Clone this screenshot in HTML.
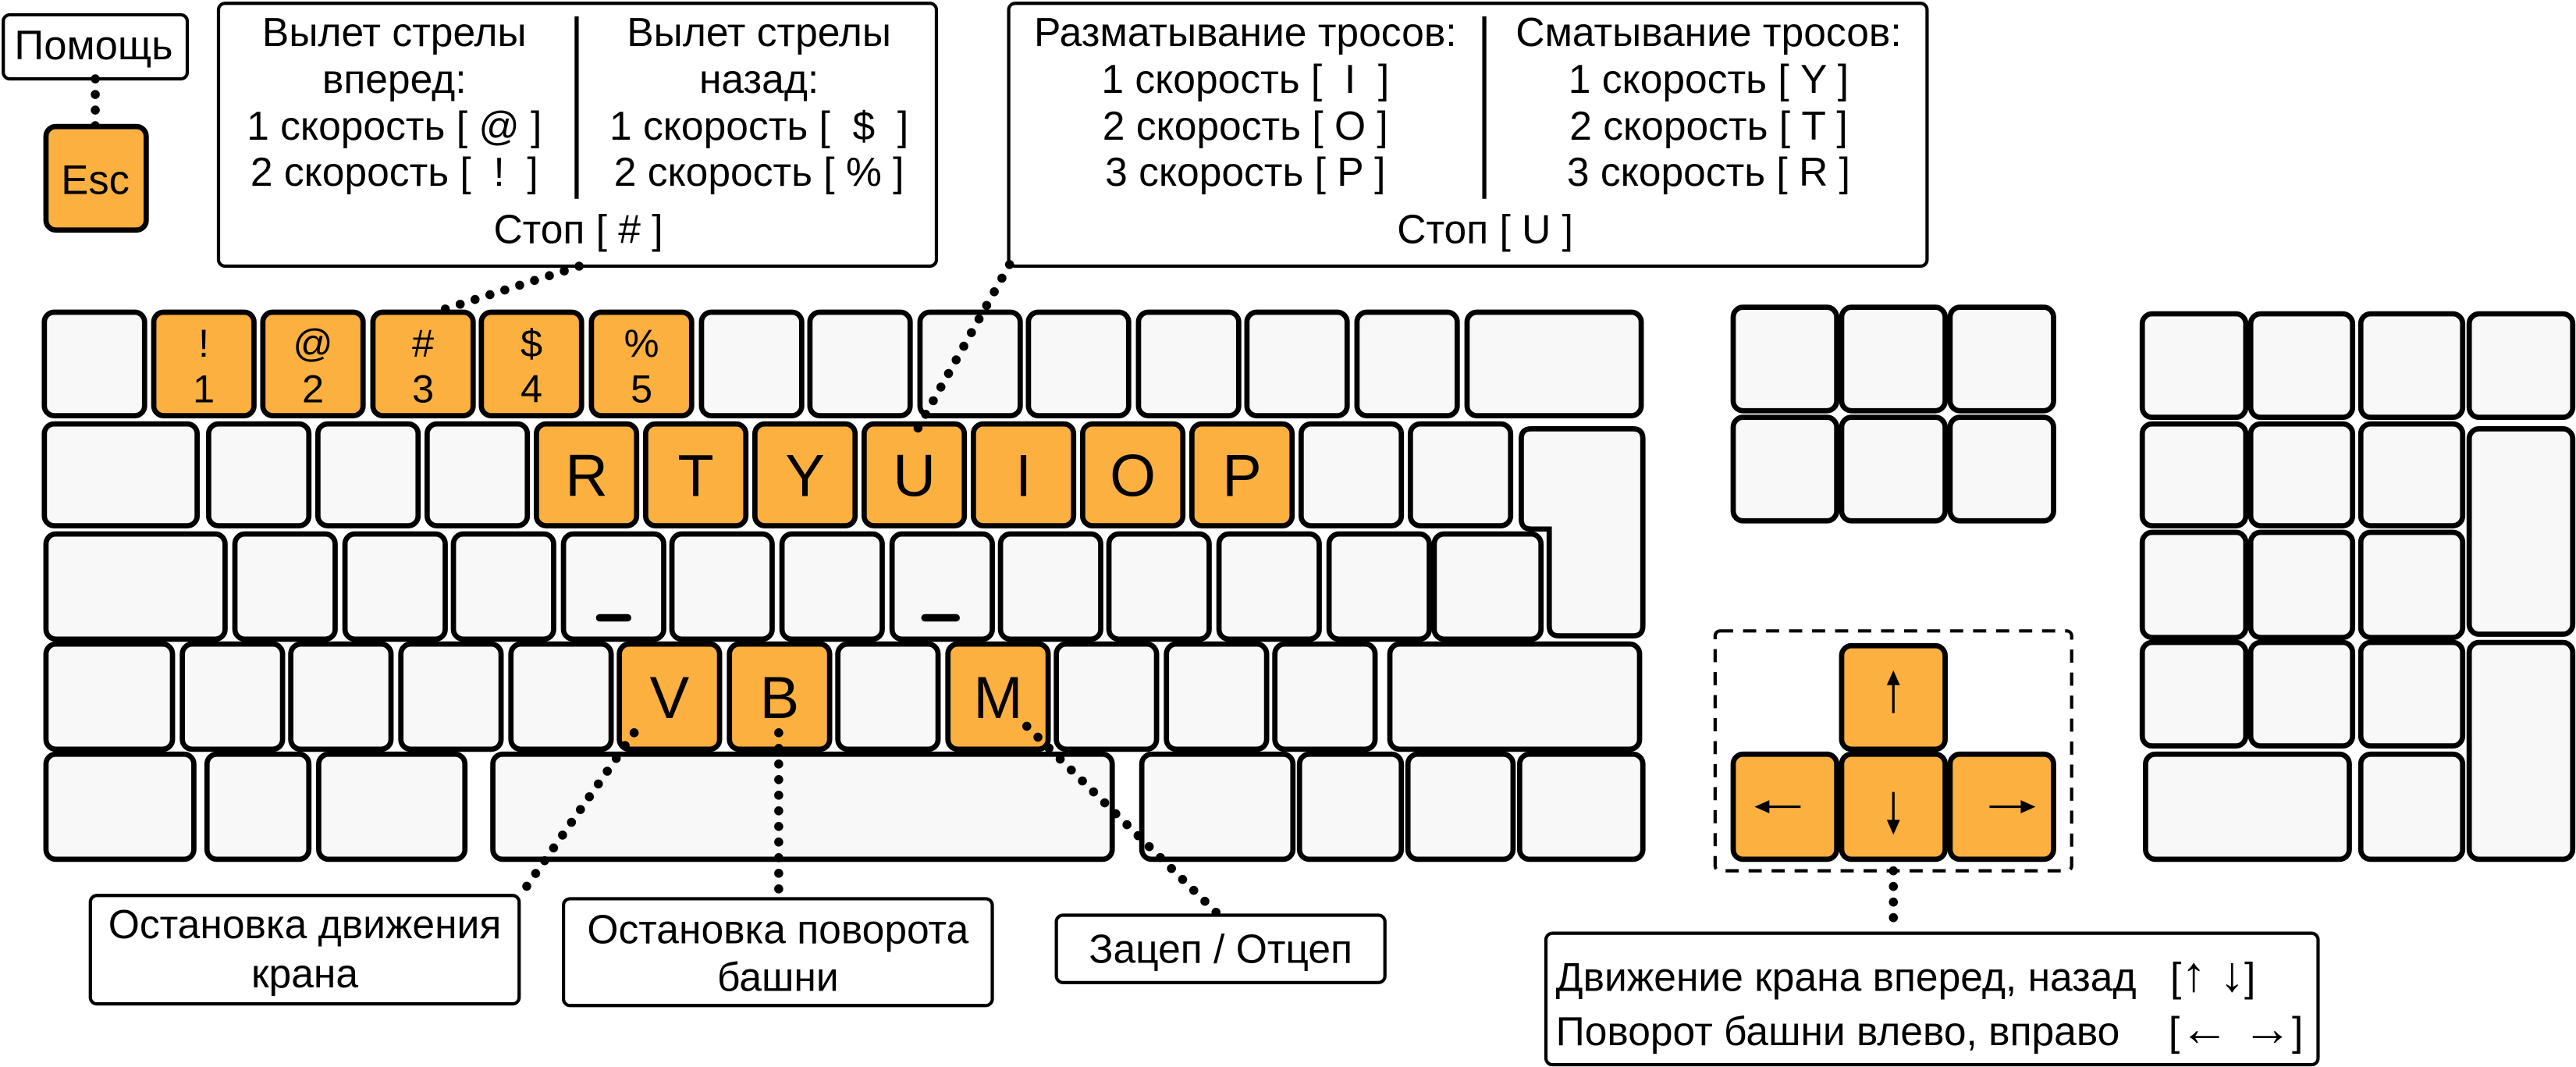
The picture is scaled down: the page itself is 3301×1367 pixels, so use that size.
<!DOCTYPE html>
<html><head><meta charset="utf-8">
<style>
html,body{margin:0;padding:0;background:#fff;}
svg{display:block;}
text{font-family:"Liberation Sans",sans-serif;fill:#000;white-space:pre;}
.k{fill:#f8f8f8;stroke:#000;stroke-width:3.2;}
.o{fill:#fbb040;stroke:#000;stroke-width:3.2;}
.b{fill:#fff;stroke:#000;stroke-width:2;}
.d{fill:none;stroke:#000;stroke-width:5.5;stroke-linecap:round;stroke-dasharray:0 9.5;}
.t{font-size:24.5px;text-anchor:middle;}
.kl{font-size:36px;text-anchor:middle;}
.kd{font-size:24px;text-anchor:middle;}
</style></head>
<body>
<svg width="3301" height="1367" viewBox="0 0 1568 649.4" preserveAspectRatio="none" xmlns="http://www.w3.org/2000/svg">
<rect class="b" x="2" y="9" width="112" height="39" rx="4"/>
<text class="t" x="57" y="36" style="font-size:25px">Помощь</text>
<line class="d" x1="58" y1="48" x2="58" y2="80"/>
<rect class="o" x="28" y="77" width="61" height="63" rx="6"/>
<text class="t" x="58" y="118" style="font-size:25px">Esc</text>

<rect class="b" x="133" y="2" width="437" height="160" rx="4"/>
<line x1="351" y1="10" x2="351" y2="121" stroke="#000" stroke-width="2.5"/>
<text class="t" x="240" y="28">Вылет стрелы</text>
<text class="t" x="240" y="56.5">вперед:</text>
<text class="t" x="240" y="85">1 скорость [ @ ]</text>
<text class="t" x="240" y="113">2 скорость [  !  ]</text>
<text class="t" x="462" y="28">Вылет стрелы</text>
<text class="t" x="462" y="56.5">назад:</text>
<text class="t" x="462" y="85">1 скорость [  $  ]</text>
<text class="t" x="462" y="113">2 скорость [ % ]</text>
<text class="t" x="352" y="148">Стоп [ # ]</text>

<rect class="b" x="614" y="2" width="559" height="160" rx="4"/>
<line x1="903.5" y1="10" x2="903.5" y2="121" stroke="#000" stroke-width="2.5"/>
<text class="t" x="758" y="28">Разматывание тросов:</text>
<text class="t" x="758" y="56.5">1 скорость [  I  ]</text>
<text class="t" x="758" y="85">2 скорость [ O ]</text>
<text class="t" x="758" y="113">3 скорость [ P ]</text>
<text class="t" x="1040" y="28">Сматывание тросов:</text>
<text class="t" x="1040" y="56.5">1 скорость [ Y ]</text>
<text class="t" x="1040" y="85">2 скорость [ T ]</text>
<text class="t" x="1040" y="113">3 скорость [ R ]</text>
<text class="t" x="904" y="148">Стоп [ U ]</text>

<rect class="k" x="27" y="190" width="61" height="63" rx="6"/>
<rect class="o" x="93.6" y="190" width="61" height="63" rx="6"/>
<rect class="o" x="160" y="190" width="61" height="63" rx="6"/>
<rect class="o" x="227" y="190" width="61" height="63" rx="6"/>
<rect class="o" x="293" y="190" width="61" height="63" rx="6"/>
<rect class="o" x="360" y="190" width="61" height="63" rx="6"/>
<rect class="k" x="427" y="190" width="61" height="63" rx="6"/>
<rect class="k" x="493" y="190" width="61" height="63" rx="6"/>
<rect class="k" x="560" y="190" width="61" height="63" rx="6"/>
<rect class="k" x="626" y="190" width="61" height="63" rx="6"/>
<rect class="k" x="693" y="190" width="61" height="63" rx="6"/>
<rect class="k" x="759" y="190" width="61" height="63" rx="6"/>
<rect class="k" x="826" y="190" width="61" height="63" rx="6"/>
<rect class="k" x="893" y="190" width="106" height="63" rx="6"/>
<text class="kd" x="124" y="217">!</text><text class="kd" x="124" y="245">1</text>
<text class="kd" x="190.5" y="217">@</text><text class="kd" x="190.5" y="245">2</text>
<text class="kd" x="257.5" y="217">#</text><text class="kd" x="257.5" y="245">3</text>
<text class="kd" x="323.5" y="217">$</text><text class="kd" x="323.5" y="245">4</text>
<text class="kd" x="390.5" y="217">%</text><text class="kd" x="390.5" y="245">5</text>

<rect class="k" x="27" y="258" width="93" height="62" rx="6"/>
<rect class="k" x="127" y="258" width="61" height="62" rx="6"/>
<rect class="k" x="193.5" y="258" width="61" height="62" rx="6"/>
<rect class="k" x="260" y="258" width="61" height="62" rx="6"/>
<rect class="o" x="326.5" y="258" width="61" height="62" rx="6"/>
<rect class="o" x="393" y="258" width="61" height="62" rx="6"/>
<rect class="o" x="459.5" y="258" width="61" height="62" rx="6"/>
<rect class="o" x="526" y="258" width="61" height="62" rx="6"/>
<rect class="o" x="592.5" y="258" width="61" height="62" rx="6"/>
<rect class="o" x="659" y="258" width="61" height="62" rx="6"/>
<rect class="o" x="725.5" y="258" width="61" height="62" rx="6"/>
<rect class="k" x="792" y="258" width="61" height="62" rx="6"/>
<rect class="k" x="858.5" y="258" width="61" height="62" rx="6"/>
<path class="k" d="M932,261 H994 Q1000,261 1000,267 V381 Q1000,387 994,387 H949 Q943,387 943,381 V322 H932 Q926,322 926,316 V267 Q926,261 932,261 Z"/>
<text class="kl" x="357" y="302">R</text>
<text class="kl" x="423.5" y="302">T</text>
<text class="kl" x="490" y="302">Y</text>
<text class="kl" x="556.5" y="302">U</text>
<text class="kl" x="623" y="302">I</text>
<text class="kl" x="689.5" y="302">O</text>
<text class="kl" x="756" y="302">P</text>

<rect class="k" x="28" y="325" width="109" height="64" rx="6"/>
<rect class="k" x="143" y="325" width="61" height="64" rx="6"/>
<rect class="k" x="210" y="325" width="61" height="64" rx="6"/>
<rect class="k" x="276" y="325" width="61" height="64" rx="6"/>
<rect class="k" x="343" y="325" width="61" height="64" rx="6"/>
<rect class="k" x="409" y="325" width="61" height="64" rx="6"/>
<rect class="k" x="476" y="325" width="61" height="64" rx="6"/>
<rect class="k" x="543" y="325" width="61" height="64" rx="6"/>
<rect class="k" x="609" y="325" width="61" height="64" rx="6"/>
<rect class="k" x="675" y="325" width="61" height="64" rx="6"/>
<rect class="k" x="742" y="325" width="61" height="64" rx="6"/>
<rect class="k" x="809" y="325" width="61" height="64" rx="6"/>
<rect class="k" x="873" y="325" width="65" height="64" rx="6"/>
<line x1="365" y1="376" x2="382" y2="376" stroke="#000" stroke-width="4.5" stroke-linecap="round"/>
<line x1="563" y1="376" x2="582" y2="376" stroke="#000" stroke-width="4.5" stroke-linecap="round"/>

<rect class="k" x="28" y="392" width="77" height="64" rx="6"/>
<rect class="k" x="111" y="392" width="61" height="64" rx="6"/>
<rect class="k" x="177" y="392" width="61" height="64" rx="6"/>
<rect class="k" x="244" y="392" width="61" height="64" rx="6"/>
<rect class="k" x="311" y="392" width="61" height="64" rx="6"/>
<rect class="o" x="377" y="392" width="61" height="64" rx="6"/>
<rect class="o" x="444" y="392" width="61" height="64" rx="6"/>
<rect class="k" x="510" y="392" width="61" height="64" rx="6"/>
<rect class="o" x="577" y="392" width="61" height="64" rx="6"/>
<rect class="k" x="643" y="392" width="61" height="64" rx="6"/>
<rect class="k" x="710" y="392" width="61" height="64" rx="6"/>
<rect class="k" x="776" y="392" width="61" height="64" rx="6"/>
<rect class="k" x="846" y="392" width="152" height="64" rx="6"/>
<text class="kl" x="407.5" y="437">V</text>
<text class="kl" x="474.5" y="437">B</text>
<text class="kl" x="607.5" y="437">M</text>

<rect class="k" x="28" y="459" width="90" height="64" rx="6"/>
<rect class="k" x="126" y="459" width="62" height="64" rx="6"/>
<rect class="k" x="194" y="459" width="89" height="64" rx="6"/>
<rect class="k" x="300" y="459" width="377" height="64" rx="6"/>
<rect class="k" x="695" y="459" width="92" height="64" rx="6"/>
<rect class="k" x="791" y="459" width="62" height="64" rx="6"/>
<rect class="k" x="857" y="459" width="64" height="64" rx="6"/>
<rect class="k" x="925" y="459" width="75" height="64" rx="6"/>

<rect class="k" x="1055" y="187" width="63" height="63" rx="6"/>
<rect class="k" x="1121" y="187" width="63" height="63" rx="6"/>
<rect class="k" x="1187" y="187" width="63" height="63" rx="6"/>
<rect class="k" x="1055" y="254" width="63" height="63" rx="6"/>
<rect class="k" x="1121" y="254" width="63" height="63" rx="6"/>
<rect class="k" x="1187" y="254" width="63" height="63" rx="6"/>

<rect x="1044" y="384" width="217" height="146" rx="3" fill="none" stroke="#000" stroke-width="2" stroke-dasharray="8 6"/>
<rect class="o" x="1121" y="393" width="63" height="63" rx="6"/>
<rect class="o" x="1055" y="459" width="63" height="64" rx="6"/>
<rect class="o" x="1121" y="459" width="63" height="64" rx="6"/>
<rect class="o" x="1187" y="459" width="63" height="64" rx="6"/>
<g stroke="#000" stroke-width="1.5">
<line x1="1152.5" y1="416" x2="1152.5" y2="434"/>
<line x1="1152.5" y1="482" x2="1152.5" y2="500"/>
<line x1="1076" y1="491" x2="1096" y2="491"/>
<line x1="1211" y1="491" x2="1231" y2="491"/>
</g>
<polygon points="1152.5,408 1148.5,417 1156.5,417"/>
<polygon points="1152.5,508 1148.5,499 1156.5,499"/>
<polygon points="1068,491 1077,487 1077,495"/>
<polygon points="1239,491 1230,487 1230,495"/>
<line class="d" x1="1152.5" y1="530" x2="1152.5" y2="568"/>

<rect class="k" x="1304" y="191" width="63" height="63" rx="6"/>
<rect class="k" x="1370" y="191" width="62" height="63" rx="6"/>
<rect class="k" x="1437" y="191" width="62" height="63" rx="6"/>
<rect class="k" x="1503" y="191" width="63" height="63" rx="6"/>
<rect class="k" x="1304" y="258" width="63" height="62" rx="6"/>
<rect class="k" x="1370" y="258" width="62" height="62" rx="6"/>
<rect class="k" x="1437" y="258" width="62" height="62" rx="6"/>
<rect class="k" x="1503" y="261" width="63" height="125" rx="6"/>
<rect class="k" x="1304" y="324" width="63" height="64" rx="6"/>
<rect class="k" x="1370" y="324" width="62" height="64" rx="6"/>
<rect class="k" x="1437" y="324" width="62" height="64" rx="6"/>
<rect class="k" x="1304" y="391" width="63" height="63" rx="6"/>
<rect class="k" x="1370" y="391" width="62" height="63" rx="6"/>
<rect class="k" x="1437" y="391" width="62" height="63" rx="6"/>
<rect class="k" x="1503" y="391" width="63" height="132" rx="6"/>
<rect class="k" x="1306" y="459" width="124" height="64" rx="6"/>
<rect class="k" x="1437" y="459" width="62" height="64" rx="6"/>

<line class="d" x1="352.5" y1="162" x2="265" y2="190"/>
<line class="d" x1="614.5" y1="161" x2="558.5" y2="261"/>
<line class="d" x1="386" y1="446" x2="316" y2="546"/>
<line class="d" x1="474" y1="446" x2="474" y2="547"/>
<line class="d" x1="625" y1="442" x2="742" y2="557"/>

<rect class="b" x="55" y="545" width="261" height="66" rx="4"/>
<text class="t" x="185.5" y="571">Остановка движения</text>
<text class="t" x="185.5" y="601">крана</text>
<rect class="b" x="343" y="547" width="261" height="65" rx="4"/>
<text class="t" x="473.5" y="574">Остановка поворота</text>
<text class="t" x="473.5" y="603">башни</text>
<rect class="b" x="643" y="557" width="200" height="41" rx="4"/>
<text class="t" x="743" y="586">Зацеп / Отцеп</text>
<rect class="b" x="941" y="568" width="470" height="80" rx="4"/>
<text x="947" y="603" style="font-size:24.5px">Движение крана вперед, назад</text>
<text x="1321" y="603" style="font-size:24.5px">[<tspan style="font-size:30px">↑ ↓</tspan>]</text>
<text x="947" y="636" style="font-size:24.5px">Поворот башни влево, вправо</text>
<text x="1320" y="636" style="font-size:24.5px">[<tspan style="font-size:30px">← →</tspan>]</text>
</svg>
</body></html>
